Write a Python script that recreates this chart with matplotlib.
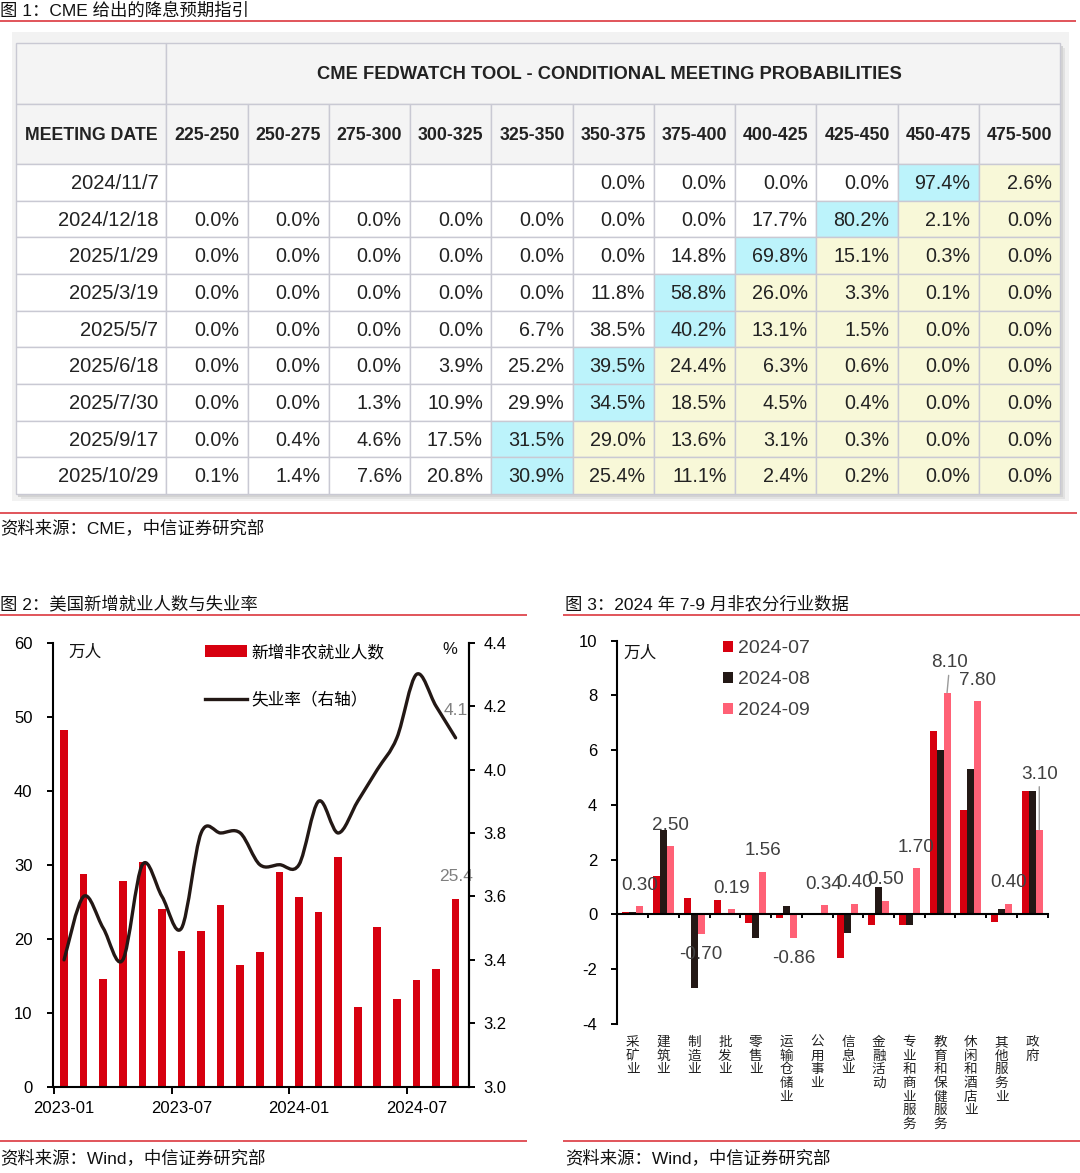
import numpy as np
import matplotlib
matplotlib.use('Agg')
import matplotlib.pyplot as plt
from matplotlib.patches import Rectangle, PathPatch
from matplotlib.path import Path
from matplotlib.lines import Line2D

plt.rcParams['font.family'] = ['Liberation Sans', 'Noto Sans CJK SC']
plt.rcParams['axes.unicode_minus'] = False

# ---------------- data: 图1 CME FedWatch ----------------
rate_ranges = ['225-250', '250-275', '275-300', '300-325', '325-350', '350-375',
               '375-400', '400-425', '425-450', '450-475', '475-500']
meeting_dates = ['2024/11/7', '2024/12/18', '2025/1/29', '2025/3/19', '2025/5/7',
                 '2025/6/18', '2025/7/30', '2025/9/17', '2025/10/29']
prob_rows = [
    [None, None, None, None, None, 0.0, 0.0, 0.0, 0.0, 97.4, 2.6],
    [0.0, 0.0, 0.0, 0.0, 0.0, 0.0, 0.0, 17.7, 80.2, 2.1, 0.0],
    [0.0, 0.0, 0.0, 0.0, 0.0, 0.0, 14.8, 69.8, 15.1, 0.3, 0.0],
    [0.0, 0.0, 0.0, 0.0, 0.0, 11.8, 58.8, 26.0, 3.3, 0.1, 0.0],
    [0.0, 0.0, 0.0, 0.0, 6.7, 38.5, 40.2, 13.1, 1.5, 0.0, 0.0],
    [0.0, 0.0, 0.0, 3.9, 25.2, 39.5, 24.4, 6.3, 0.6, 0.0, 0.0],
    [0.0, 0.0, 1.3, 10.9, 29.9, 34.5, 18.5, 4.5, 0.4, 0.0, 0.0],
    [0.0, 0.4, 4.6, 17.5, 31.5, 29.0, 13.6, 3.1, 0.3, 0.0, 0.0],
    [0.1, 1.4, 7.6, 20.8, 30.9, 25.4, 11.1, 2.4, 0.2, 0.0, 0.0],
]

# ---------------- data: 图2 非农与失业率 ----------------
months = ['2023-01', '2023-02', '2023-03', '2023-04', '2023-05', '2023-06', '2023-07',
          '2023-08', '2023-09', '2023-10', '2023-11', '2023-12', '2024-01', '2024-02',
          '2024-03', '2024-04', '2024-05', '2024-06', '2024-07', '2024-08', '2024-09']
nfp = [48.2, 28.7, 14.6, 27.8, 30.3, 24.0, 18.4, 21.0, 24.6, 16.5, 18.2, 29.0,
       25.6, 23.6, 31.0, 10.8, 21.6, 11.8, 14.4, 15.9, 25.4]
unrate = [3.4, 3.6, 3.5, 3.4, 3.7, 3.6, 3.5, 3.8, 3.8, 3.8, 3.7, 3.7,
          3.7, 3.9, 3.8, 3.9, 4.0, 4.1, 4.3, 4.2, 4.1]

# ---------------- data: 图3 分行业 ----------------
industries = ['采矿业', '建筑业', '制造业', '批发业', '零售业', '运输仓储业', '公用事业',
              '信息业', '金融活动', '专业和商业服务', '教育和保健服务', '休闲和酒店业',
              '其他服务业', '政府']
jul = [0.08, 1.4, 0.6, 0.53, -0.32, -0.14, 0.03, -1.58, -0.38, -0.38, 6.7, 3.8, -0.29, 4.5]
aug = [0.1, 3.1, -2.7, 0.0, -0.87, 0.32, 0.0, -0.66, 0.99, -0.38, 6.0, 5.3, 0.19, 4.5]
sep = [0.30, 2.50, -0.70, 0.19, 1.56, -0.86, 0.34, 0.40, 0.50, 1.70, 8.10, 7.80, 0.40, 3.10]

W, H = 1080, 1173
RED = '#d7000f'
DARK = '#231815'
PINK = '#ff6176'
LINE_RED = '#d8262d'
CAP_FS = 12.5


def fx(px):
    return px / W


def fy(py):
    return 1 - py / H


fig = plt.figure(figsize=(W / 100, H / 100), dpi=100)

# page layer in pixel coordinates
page = fig.add_axes([0, 0, 1, 1])
page.set_xlim(0, W)
page.set_ylim(H, 0)
page.axis('off')


def hline(x0, x1, y):
    page.plot([x0, x1], [y, y], color=LINE_RED, lw=1.1, solid_capstyle='butt')


# titles / sources
page.text(0, 11, '图 1：CME 给出的降息预期指引', fontsize=CAP_FS, va='center', color='#111')
hline(0, 1076, 20.7)
hline(0, 1077, 512.7)
page.text(0, 528, '资料来源：CME，中信证券研究部', fontsize=CAP_FS, va='center', color='#111')

page.text(0, 604, '图 2：美国新增就业人数与失业率', fontsize=CAP_FS, va='center', color='#111')
hline(0, 527, 615)
hline(0, 527, 1141)
page.text(0, 1158, '资料来源：Wind，中信证券研究部', fontsize=CAP_FS, va='center', color='#111')

page.text(565, 604, '图 3：2024 年 7-9 月非农分行业数据', fontsize=CAP_FS, va='center', color='#111')
hline(563, 1080, 615)
hline(563, 1080, 1141)
page.text(565, 1158, '资料来源：Wind，中信证券研究部', fontsize=CAP_FS, va='center', color='#111')

# ---------------- table ----------------
tx0, c0w, cw = 15.5, 150.8, 81.27
ty0, h1, h2, rh = 43.3, 60.7, 60.0, 36.67
n_cols = len(rate_ranges)
tx1 = tx0 + c0w + n_cols * cw
ty1 = ty0 + h1 + h2 + rh * len(meeting_dates)
grid_c = '#c9c9d3'
hdr_bg = '#f4f4f4'
cyan = '#bcf3fb'
yellow = '#f8f8d8'

page.add_patch(Rectangle((12, 32), 1057, 469, color='#f2f2f2', lw=0))
page.add_patch(Rectangle((tx0 + 5, ty0 + 5), tx1 - tx0, ty1 - ty0, color='#e2e2e2', lw=0))
page.add_patch(Rectangle((tx0 + 2.5, ty0 + 2.5), tx1 - tx0, ty1 - ty0, color='#d3d3d3', lw=0))


def cell(x, y, w, h, fc):
    page.add_patch(Rectangle((x, y), w, h, facecolor=fc, edgecolor=grid_c, lw=1.0))


cell(tx0, ty0, c0w, h1, hdr_bg)
cell(tx0 + c0w, ty0, n_cols * cw, h1, hdr_bg)
page.text(tx0 + c0w + n_cols * cw / 2 - 4, ty0 + h1 / 2 + 1,
          'CME FEDWATCH TOOL - CONDITIONAL MEETING PROBABILITIES',
          fontsize=13.2, fontweight='bold', ha='center', va='center', color='#222')
cell(tx0, ty0 + h1, c0w, h2, hdr_bg)
page.text(tx0 + c0w / 2, ty0 + h1 + h2 / 2 + 1, 'MEETING DATE', fontsize=12.8,
          fontweight='bold', ha='center', va='center', color='#222')
for j, rr in enumerate(rate_ranges):
    x = tx0 + c0w + j * cw
    cell(x, ty0 + h1, cw, h2, hdr_bg)
    page.text(x + cw / 2, ty0 + h1 + h2 / 2 + 1, rr, fontsize=12.8, fontweight='bold',
              ha='center', va='center', color='#222')

for i, (d, row) in enumerate(zip(meeting_dates, prob_rows)):
    y = ty0 + h1 + h2 + i * rh
    cell(tx0, y, c0w, rh, 'white')
    page.text(tx0 + c0w - 8, y + rh / 2 + 1, d, fontsize=14.5, ha='right', va='center',
              color='#222')
    vals = [v if v is not None else -1 for v in row]
    jmax = int(np.argmax(vals))
    for j, v in enumerate(row):
        x = tx0 + c0w + j * cw
        fc = cyan if j == jmax else (yellow if j > jmax else 'white')
        cell(x, y, cw, rh, fc)
        if v is not None:
            page.text(x + cw - 8.5, y + rh / 2 + 1, f'{v:.1f}%', fontsize=14.2,
                      ha='right', va='center', color='#222')

# ---------------- chart 2 ----------------
ax1 = fig.add_axes([fx(53.3), fy(1086.7), fx(469.3) - fx(53.3), (1086.7 - 642.7) / H])
x = np.arange(len(months))
bars = ax1.bar(x, nfp, width=0.39, color=RED, zorder=2, label='新增非农就业人数')
ax1.set_xlim(-0.55, 20.7)
ax1.set_ylim(0, 60)
ax1.set_yticks(range(0, 61, 10))
ax1.set_xticks([-0.5, 5.5, 11.5, 17.5])
ax1.set_xticklabels([])
ax1.set_xticks([0, 6, 12, 18], minor=True)
ax1.set_xticklabels([months[k] for k in [0, 6, 12, 18]], minor=True)
ax1.tick_params(axis='x', which='minor', length=0, pad=10.5, labelsize=12)
ax1.tick_params(axis='x', which='major', length=5, width=1.4, direction='out')
ax1.tick_params(axis='y', length=4, width=1.4, direction='out', pad=11, labelsize=12)
ax1.spines['top'].set_visible(False)
for s in ['left', 'bottom', 'right']:
    ax1.spines[s].set_linewidth(1.5)
ax1.patch.set_visible(False)

ax2 = ax1.twinx()
ax2.set_ylim(3.0, 4.4)
ax2.set_yticks(np.arange(3.0, 4.41, 0.2))
ax2.set_yticklabels([f'{t:.1f}' for t in np.arange(3.0, 4.41, 0.2)])
ax2.tick_params(axis='y', length=4, width=1.4, direction='out', pad=6, labelsize=12)
ax2.spines['top'].set_visible(False)
ax2.spines['right'].set_linewidth(1.5)
ax2.spines['left'].set_visible(False)
ax2.spines['bottom'].set_visible(False)


def smooth_path(xs, ys):
    pts = np.column_stack([xs, ys]).astype(float)
    n = len(pts)
    verts = [pts[0]]
    codes = [Path.MOVETO]
    for i in range(n - 1):
        p0 = pts[i - 1] if i > 0 else pts[i]
        p1, p2 = pts[i], pts[i + 1]
        p3 = pts[i + 2] if i + 2 < n else pts[i + 1]
        verts += [p1 + (p2 - p0) / 6, p2 - (p3 - p1) / 6, p2]
        codes += [Path.CURVE4] * 3
    return Path(verts, codes)


ax2.add_patch(PathPatch(smooth_path(x, unrate), fill=False, edgecolor=DARK, lw=2.4,
                        capstyle='round', joinstyle='round'))
ax2.annotate(f'{unrate[-1]:.1f}', xy=(x[-1], unrate[-1]), xytext=(0, 20),
             textcoords='offset points', ha='center', va='center', fontsize=12.5,
             color='#7f7f7f')
ax1.annotate(f'{nfp[-1]:.1f}', xy=(x[-1], nfp[-1]), xytext=(0, 16),
             textcoords='offset points', ha='center', va='center', fontsize=12.5,
             color='#7f7f7f')

line_proxy = Line2D([], [], color=DARK, lw=2.4)
ax1.legend([bars, line_proxy], ['新增非农就业人数', '失业率（右轴）'], loc='upper left',
           bbox_to_anchor=(fx(205), fy(644)), bbox_transform=fig.transFigure,
           frameon=False, borderpad=0, borderaxespad=0, handlelength=2.5,
           handleheight=0.66, handletextpad=0.25, labelspacing=1.9, fontsize=12)
page.text(68, 652, '万人', fontsize=12, va='center', color='#111')
page.text(450, 650, '%', fontsize=12, va='center', ha='center', color='#111')

# ---------------- chart 3 ----------------
ax3 = fig.add_axes([fx(617.3), fy(1024), fx(1047.7) - fx(617.3), (1024 - 640.7) / H])
xi = np.arange(len(industries))
bw = 0.226
b_jul = ax3.bar(xi - bw, jul, width=bw, color=RED, label='2024-07')
b_aug = ax3.bar(xi, aug, width=bw, color=DARK, label='2024-08')
b_sep = ax3.bar(xi + bw, sep, width=bw, color=PINK, label='2024-09')
ax3.set_xlim(-0.5, len(industries) - 0.5)
ax3.set_ylim(-4, 10)
ax3.set_yticks(range(-4, 11, 2))
ax3.set_xticks(np.arange(0.5, len(industries), 1.0))
ax3.set_xticklabels([])
ax3.tick_params(axis='x', length=3, width=1.4, direction='out')
ax3.tick_params(axis='y', length=4, width=1.4, direction='out', pad=10.5, labelsize=12)
ax3.spines['bottom'].set_position(('data', 0))
ax3.spines['top'].set_visible(False)
ax3.spines['right'].set_visible(False)
ax3.spines['left'].set_linewidth(1.5)
ax3.spines['bottom'].set_linewidth(1.5)
ax3.patch.set_visible(False)

for k, name in enumerate(industries):
    ax3.annotate('\n'.join(name), xy=(k, 0), xycoords=('data', 'axes fraction'),
                 xytext=(0, -8), textcoords='offset points', ha='center', va='top',
                 fontsize=9.8, linespacing=0.97, color='#222')

label_offsets = {10: (2, 21.6), 13: (0, 40)}
for k, v in enumerate(sep):
    dx, dy = label_offsets.get(k, (0, 15 if v >= 0 else -15))
    arrow = None
    if k in label_offsets:
        arrow = dict(arrowstyle='-', color='#9a9a9a', lw=1.0, shrinkA=1, shrinkB=0)
    ax3.annotate(f'{v:.2f}', xy=(k + bw, v), xytext=(dx, dy), textcoords='offset points',
                 ha='center', va='center', fontsize=13.6, color='#404040',
                 arrowprops=arrow)

ax3.legend(loc='upper left', bbox_to_anchor=(fx(723), fy(640)),
           bbox_transform=fig.transFigure, frameon=False, borderpad=0, borderaxespad=0,
           handlelength=0.5, handleheight=0.5, handletextpad=0.25, labelspacing=0.72,
           fontsize=14, labelcolor='#404040')
page.text(623, 653, '万人', fontsize=12, va='center', color='#111')

fig.savefig('out.png', dpi=100)
